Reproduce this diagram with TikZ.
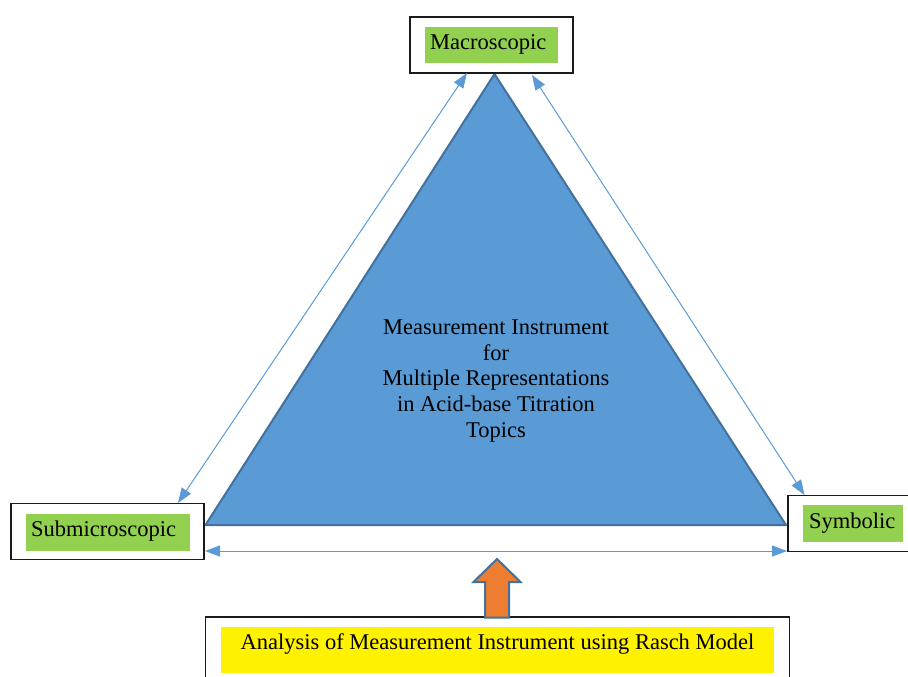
\documentclass[tikz,border=0pt]{standalone}
\usepackage{fontspec}
\setmainfont{Liberation Serif}
\usetikzlibrary{arrows.meta}
\definecolor{triblue}{HTML}{5B9BD5}
\definecolor{edgeblue}{HTML}{41719C}
\definecolor{lgreen}{HTML}{92D050}
\definecolor{aorange}{HTML}{ED7D31}
\definecolor{boxline}{HTML}{1A1A1A}
\tikzset{
  outerbox/.style={draw=boxline, line width=1.3pt, fill=white, inner sep=0pt, minimum width=#1},
  greenbox/.style={fill=lgreen, draw=none, inner sep=0pt},
  yellowbox/.style={fill=yellow, draw=none, inner sep=0pt},
  lbl/.style={inner sep=0pt, font=\fontsize{22.5}{25.9}\selectfont},
  link/.style={draw=triblue, line width=1pt, {Triangle[length=15pt,width=11pt]}-{Triangle[length=15pt,width=11pt]}},
  tri/.style={fill=triblue, draw=edgeblue, line width=2pt, line join=miter},
  uparrow/.style={fill=aorange, draw=edgeblue, line width=2pt, line join=miter}
}
\begin{document}
\begin{tikzpicture}[x=1pt,y=-1pt]
\clip (0,0) rectangle (908,677);
\fill[white] (0,0) rectangle (908,677);
% triangle
\coordinate (ta) at (494.5,74);
\coordinate (tl) at (205.5,525);
\coordinate (tr) at (786,525);
\path[tri] (ta) -- (tl) -- (tr) -- cycle;
\node[lbl, align=center] (core) at (496,381) {Measurement Instrument\\for\\Multiple Representations\\in Acid-base Titration\\Topics};
% Macroscopic
\node[outerbox=163pt, minimum height=56pt] (macro) at (491.5,45) {};
\node[greenbox, minimum width=133pt, minimum height=36pt] (macrog) at (491.5,45) {};
\node[lbl, anchor=base west] (macrot) at (430,49.3) {Macroscopic};
% Submicroscopic
\node[outerbox=193pt, minimum height=56pt] (sub) at (107.5,531.5) {};
\node[greenbox, minimum width=164pt, minimum height=37pt] (subg) at (108,532) {};
\node[lbl, anchor=base west] (subt) at (31,536.5) {Submicroscopic};
% Symbolic
\node[outerbox=140pt, minimum height=56pt] (sym) at (858,523.8) {};
\node[greenbox, minimum width=100pt, minimum height=37pt] (symg) at (853,523.5) {};
\node[lbl, anchor=base west] (symt) at (809,528.2) {Symbolic};
% Bottom box
\node[outerbox=584pt, minimum height=80pt] (rasch) at (497.5,657) {};
\node[yellowbox, minimum width=553pt, minimum height=46pt] (raschy) at (497.5,649.7) {};
\node[lbl, anchor=base] (rascht) at (497.5,649) {Analysis of Measurement Instrument using Rasch Model};
% connectors
\coordinate (m1) at (467,73);
\coordinate (s1) at (178,503);
\coordinate (m2) at (532,75);
\coordinate (y1) at (804.5,495);
\coordinate (h1) at (205,551);
\coordinate (h2) at (787,551);
\draw[link] (m1) -- (s1);
\draw[link] (m2) -- (y1);
\draw[link] (h1) -- (h2);
% up arrow
\coordinate (ua) at (497,559);
\path[uparrow] (ua) -- (520.5,582) -- (509,582) -- (509,617.5) -- (485,617.5) -- (485,582) -- (473.5,582) -- cycle;
\end{tikzpicture}
\end{document}
